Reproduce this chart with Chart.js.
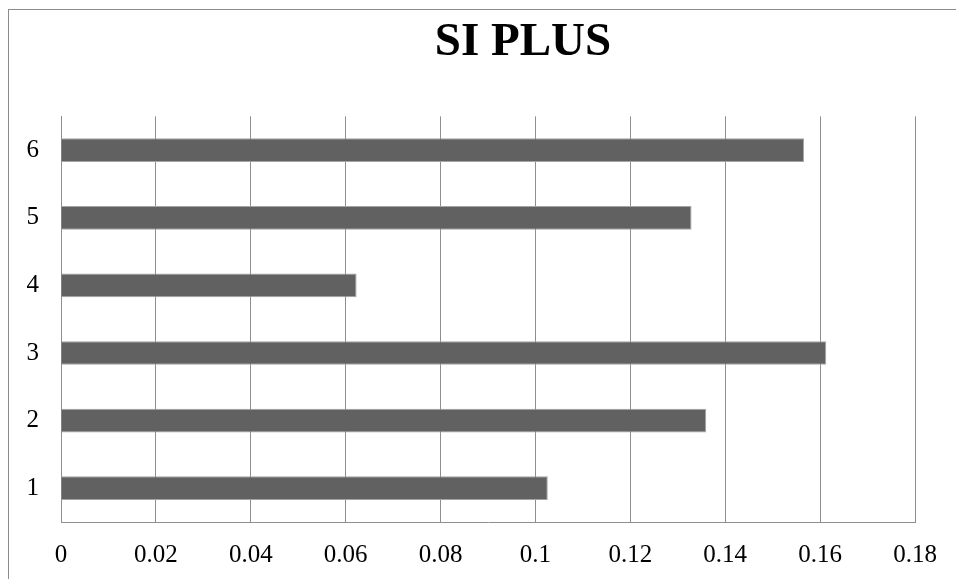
<!DOCTYPE html>
<html>
<head>
<meta charset="utf-8">
<title>SI PLUS</title>
<script src="https://cdn.jsdelivr.net/npm/chart.js@4/dist/chart.umd.min.js"></script>
<style>
  html, body { margin: 0; padding: 0; background: #ffffff; overflow: hidden; }
  #frame {
    position: absolute; left: 8px; top: 9px;
    width: 1040px; height: 600px;
    border-left: 1px solid #8c8c8c; border-top: 1px solid #8c8c8c;
    background: #ffffff;
  }
  #chart { display: block; }
</style>
</head>
<body>
<div id="frame"><canvas id="chart" width="1028" height="569"></canvas></div>
<script>
// Categories (bottom to top) and their values
const categories = ['1', '2', '3', '4', '5', '6'];
const siPlusValues = [0.1026, 0.1360, 0.1613, 0.0623, 0.1329, 0.1566];
const xTickLabels = ['0', '0.02', '0.04', '0.06', '0.08', '0.1', '0.12', '0.14', '0.16', '0.18'];

const serif = "'Liberation Serif', 'Times New Roman', serif";
const lineGray = '#8e8e8e';

// Let the title span the full canvas width even though the plot keeps a right margin
const fullWidthTitle = {
  id: 'fullWidthTitle',
  afterLayout(chart) {
    const t = chart.titleBlock;
    if (t) {
      t.left = 0;
      t.right = chart.width;
      t.width = chart.width;
    }
  }
};

new Chart(document.getElementById('chart'), {
  type: 'bar',
  data: {
    labels: categories,
    datasets: [{
      label: 'SI PLUS',
      data: siPlusValues,
      backgroundColor: '#616161',
      borderColor: '#a3a3a3',
      borderWidth: 1,
      barPercentage: 0.35,
      categoryPercentage: 1.0
    }]
  },
  plugins: [fullWidthTitle],
  options: {
    indexAxis: 'y',
    responsive: false,
    animation: false,
    devicePixelRatio: 1,
    layout: { padding: { left: 0, right: 122, top: 0, bottom: 0 } },
    plugins: {
      legend: { display: false },
      tooltip: { enabled: false },
      title: {
        display: true,
        text: 'SI PLUS',
        color: '#000000',
        font: { family: serif, size: 47, weight: 'bold' },
        padding: { top: 5, bottom: 45 }
      }
    },
    scales: {
      x: {
        min: 0,
        max: 0.18,
        ticks: {
          stepSize: 0.02,
          color: '#000000',
          font: { family: serif, size: 25 },
          padding: 18,
          maxRotation: 0,
          callback: (v, i) => xTickLabels[i]
        },
        grid: { color: lineGray, lineWidth: 1, drawTicks: false },
        border: { display: true, color: lineGray, width: 1 },
        afterFit: s => { s.height = 57; }
      },
      y: {
        reverse: true,
        ticks: {
          color: '#000000',
          font: { family: serif, size: 25 },
          padding: 22
        },
        grid: { display: false, drawTicks: false },
        border: { display: true, color: lineGray, width: 1 },
        afterFit: s => { s.width = 52; }
      }
    }
  }
});
</script>
</body>
</html>
